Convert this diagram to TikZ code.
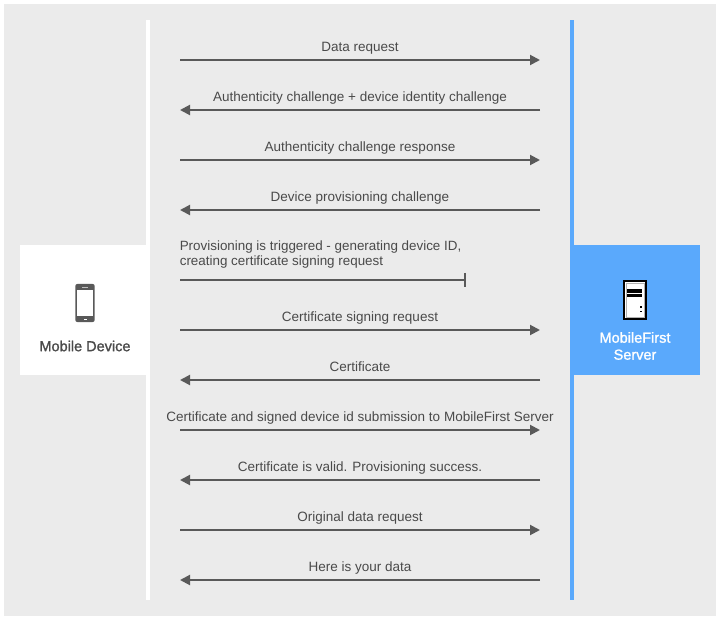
\documentclass[tikz,border=0pt]{standalone}
\usepackage{fontspec}
\setmainfont{Liberation Sans}
\newfontfamily\medfont[FakeBold=1.4]{Liberation Sans}
\usetikzlibrary{arrows.meta}
\definecolor{panelgray}{HTML}{EBEBEB}
\definecolor{flowblue}{HTML}{5AA9FC}
\definecolor{linegray}{HTML}{595959}
\definecolor{textgray}{HTML}{4A4A4A}
\tikzset{
  x=1pt,y=-1pt,
  flow/.style={draw=linegray,line width=2pt,-{Triangle[length=10pt,width=10pt]},shorten >=0pt},
  stopflow/.style={draw=linegray,line width=2pt},
  lbl/.style={font=\fontsize{13.5}{15}\selectfont,text=textgray,inner sep=0pt,anchor=base},
  actor/.style={font=\medfont\fontsize{14.5}{17}\selectfont,inner sep=0pt,align=center,anchor=center},
}
\begin{document}
\begin{tikzpicture}
\useasboundingbox (0,0) rectangle (720,620);
\fill[white] (0,0) rectangle (720,620);
\fill[panelgray] (4,4) rectangle (716,616);
% lifelines
\fill[white] (146,20) rectangle (150,600);
\fill[flowblue] (570,20) rectangle (574,600);
% actor boxes
\fill[white] (20,245) rectangle (146,375);
\fill[flowblue] (574,245) rectangle (700,375);
% phone icon
\fill[linegray,rounded corners=2pt] (75.3,284) rectangle (94.7,322);
\fill[white] (77,290) rectangle (93,316);
\fill[white] (83.5,318.5) rectangle (86.5,320);
\fill[gray!50!white] (82,286.6) rectangle (88,287.4);
% server icon
\fill[black] (623,280) rectangle (647,320);
\fill[white] (625,282) rectangle (645,318);
\draw[gray!60,line width=0.8pt] (626,283) rectangle (644,317);
\fill[black] (627,289) rectangle (642,292.7);
\fill[black] (627,294) rectangle (642,297);
\fill[black] (640,306.5) rectangle (641.5,308);
\fill[black] (640,310.5) rectangle (641.5,312);
% actor labels
\node[actor,text=textgray] (device) at (85,346) {Mobile Device};
\node[actor,text=white] (server) at (635,346) {MobileFirst\\Server};
% connector endpoints
\foreach \n/\y in {a/60,b/110,c/160,d/210,e/280,f/330,g/380,h/430,i/480,j/530,k/580}{
  \coordinate (l\n) at (180,\y);
  \coordinate (r\n) at (540,\y);
}
\coordinate (estop) at (465,280);
\coordinate (etop) at (465,273);
\coordinate (ebot) at (465,287);
% messages
\draw[flow] (la) -- (ra);
\draw[flow] (rb) -- (lb);
\draw[flow] (lc) -- (rc);
\draw[flow] (rd) -- (ld);
\draw[stopflow] (le) -- (estop);
\draw[draw=linegray,line width=1.5pt] (etop) -- (ebot);
\draw[flow] (lf) -- (rf);
\draw[flow] (rg) -- (lg);
\draw[flow] (lh) -- (rh);
\draw[flow] (ri) -- (li);
\draw[flow] (lj) -- (rj);
\draw[flow] (rk) -- (lk);
% labels
\node[lbl] (ta) at (360,51.3) {Data request};
\node[lbl] (tb) at (360,101.3) {Authenticity challenge + device identity challenge};
\node[lbl] (tc) at (360,151.3) {Authenticity challenge response};
\node[lbl] (td) at (360,201.3) {Device provisioning challenge};
\node[lbl,anchor=north west,align=left,font=\fontsize{13.4}{15}\selectfont] (te) at (179.6,240.9) {Provisioning is triggered - generating device ID,\\creating certificate signing request};
\node[lbl] (tf) at (360,321.3) {Certificate signing request};
\node[lbl] (tg) at (360,371.3) {Certificate};
\node[lbl] (th) at (360,421.3) {Certificate and signed device id submission to MobileFirst Server};
\node[lbl] (ti) at (360,471.3) {Certificate is valid. Provisioning success.};
\node[lbl] (tj) at (360,521.3) {Original data request};
\node[lbl] (tk) at (360,571.3) {Here is your data};
\end{tikzpicture}
\end{document}
